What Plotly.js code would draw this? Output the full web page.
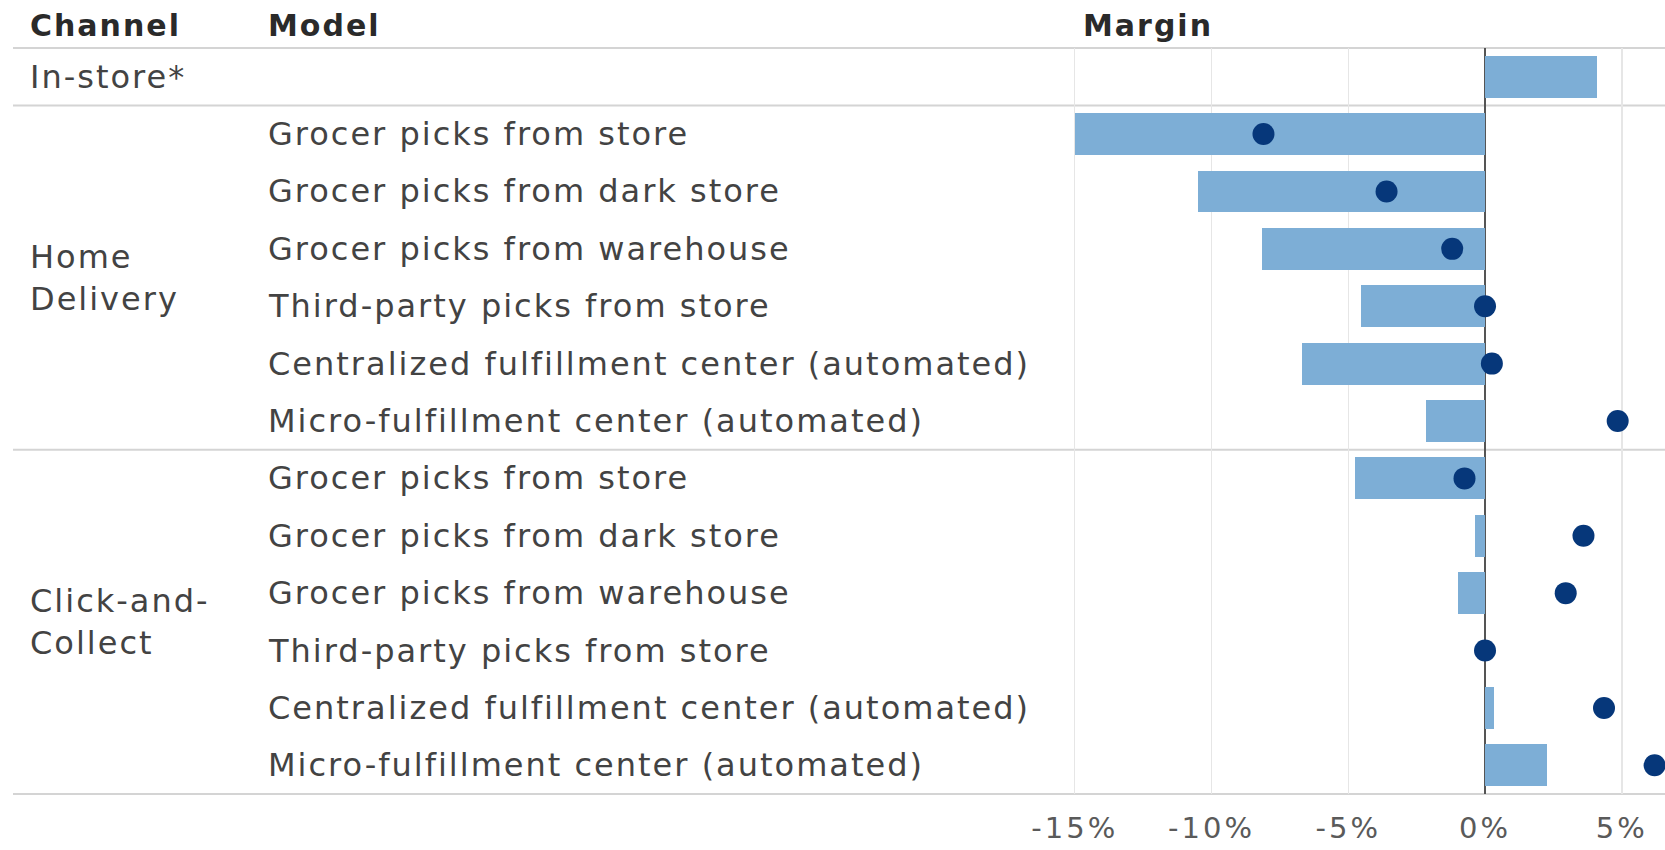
<!DOCTYPE html>
<html>
<head>
<meta charset="utf-8">
<script src="https://cdn.plot.ly/plotly-3.0.1.min.js"></script>
<style>
  html, body { margin: 0; padding: 0; background: #fff; }
  #chart { width: 1665px; height: 850px; }
  .annotation-text { letter-spacing: 2px; }
  .xtick text { letter-spacing: 3px; }
</style>
</head>
<body>
<div id="chart"></div>
<script>
// ---- data ----
const channels = ["In-store*", "Home<br>Delivery", "Click-and-<br>Collect"];
const channelRows = [0, 3.5, 9.5];
const models = [
  "",
  "Grocer picks from store",
  "Grocer picks from dark store",
  "Grocer picks from warehouse",
  "Third-party picks from store",
  "Centralized fulfillment center (automated)",
  "Micro-fulfillment center (automated)",
  "Grocer picks from store",
  "Grocer picks from dark store",
  "Grocer picks from warehouse",
  "Third-party picks from store",
  "Centralized fulfillment center (automated)",
  "Micro-fulfillment center (automated)"
];
const barMargin = [4.1, -15.0, -10.5, -8.15, -4.55, -6.7, -2.15, -4.75, -0.35, -1.0, 0, 0.33, 2.25];
const dotMargin = [null, -8.1, -3.6, -1.2, 0, 0.25, 4.85, -0.75, 3.6, 2.95, 0, 4.35, 6.2];
const tickVals = [-15, -10, -5, 0, 5];
const tickText = ["-15%", "-10%", "-5%", "0%", "5%"];
const headers = ["Channel", "Model", "Margin"];
const separatorRows = [-0.5, 0.5, 6.5, 12.5];

// ---- layout constants ----
const W = 1665, H = 850;
const L = 1072, R = 0, T = 48, B = 56;
const plotW = W - L - R, plotH = H - T - B;
const nRows = models.length;
const rowIdx = models.map((_, i) => i);
const px2paperX = px => (px - L) / plotW;
const px2paperY = py => 1 - (py - T) / plotH;

const labelFont = { family: "DejaVu Sans", size: 32, color: "#434343" };
const headFont = { family: "DejaVu Sans", size: 30, color: "#2a2a2a", weight: "bold" };

const annotations = [];
channels.forEach((c, i) => {
  annotations.push({
    text: c, xref: "paper", yref: "y", x: px2paperX(28), y: channelRows[i],
    xanchor: "left", yanchor: "middle", align: "left", showarrow: false, font: labelFont
  });
});
models.forEach((m, i) => {
  if (!m) return;
  annotations.push({
    text: m, xref: "paper", yref: "y", x: px2paperX(266), y: i,
    xanchor: "left", yanchor: "middle", align: "left", showarrow: false, font: labelFont
  });
});
const headX = [28, 266, 1081];
headers.forEach((h, i) => {
  annotations.push({
    text: "<b>" + h + "</b>", xref: "paper", yref: "paper", x: px2paperX(headX[i]), y: px2paperY(26),
    xanchor: "left", yanchor: "middle", showarrow: false, font: headFont
  });
});

const shapes = separatorRows.map(r => ({
  type: "line", xref: "paper", yref: "paper",
  x0: px2paperX(13), x1: 1, y0: (nRows - 0.5 - r) / nRows, y1: (nRows - 0.5 - r) / nRows,
  line: { color: "#d4d4d4", width: 2 }, layer: "below"
}));

const bars = {
  type: "bar", orientation: "h", x: barMargin, y: rowIdx, width: 0.73,
  marker: { color: "#7daed6", line: { width: 0 } }, hoverinfo: "x"
};
const dots = {
  type: "scatter", mode: "markers", x: dotMargin, y: rowIdx,
  marker: { color: "#06377a", size: 22 }, cliponaxis: false, hoverinfo: "x"
};

const layout = {
  width: W, height: H,
  margin: { l: L, r: R, t: T, b: B },
  paper_bgcolor: "#ffffff", plot_bgcolor: "#ffffff",
  showlegend: false,
  xaxis: {
    range: [-15.1, 6.58], tickvals: tickVals, ticktext: tickText,
    showgrid: true, gridcolor: "#e6e6e6", gridwidth: 1.5,
    zeroline: true, zerolinecolor: "#555555", zerolinewidth: 2,
    ticks: "", showline: false, ticklabelstandoff: 14,
    tickfont: { family: "DejaVu Sans", size: 29, color: "#5a5a5a" },
    fixedrange: true
  },
  yaxis: {
    range: [nRows - 0.5, -0.5], showgrid: false, zeroline: false,
    showticklabels: false, ticks: "", fixedrange: true
  },
  annotations: annotations,
  shapes: shapes,
  bargap: 0
};

Plotly.newPlot("chart", [bars, dots], layout, { displayModeBar: false, staticPlot: true });
</script>
</body>
</html>
